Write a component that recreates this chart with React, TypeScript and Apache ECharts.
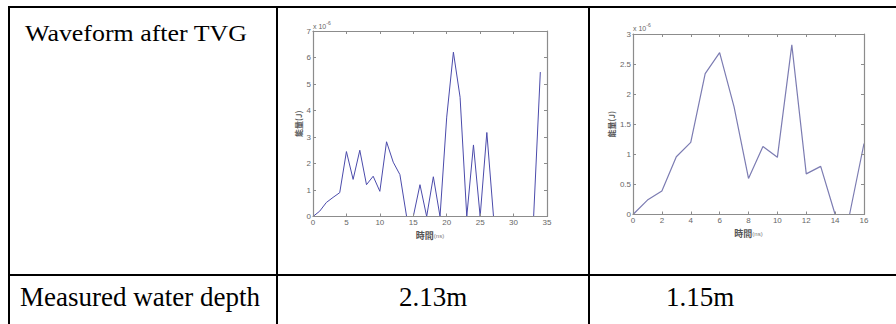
import React, { useEffect, useRef } from "react";
import * as echarts from "echarts";

// Left chart (measured depth 2.13 m): energy (x10^-6 J) vs time (ns)
const timeA: number[] = [0,1,2,3,4,5,6,7,8,9,10,11,12,13,14,15,16,17,18,19,20,21,22,23,24,25,26,27,28,29,30,31,32,33,34];
const energyA: number[] = [0,0.2,0.53,0.72,0.9,2.45,1.4,2.5,1.2,1.52,0.95,2.82,2.05,1.58,0,0,1.2,0,1.5,0,3.75,6.2,4.5,0,2.7,0,3.17,0,0,0,0,0,0,0,5.45];

// Right chart (measured depth 1.15 m)
const timeB: number[] = [0,1,2,3,4,5,6,7,8,9,10,11,12,13,14,15,16];
const energyB: number[] = [0,0.24,0.39,0.96,1.2,2.34,2.69,1.79,0.6,1.13,0.95,2.82,0.675,0.8,0,0,1.18];

const rowLabels: string[] = ["Waveform after TVG", "Measured water depth"];
const depthLabels: string[] = ["2.13m", "1.15m"];
const xNameText = "{a|時間}{b|(ns)}";
const yNameText = "能量(J)";
const expText = "{a|x 10}{b|-6}";

const AXIS = "#8c8c8c";
const LABEL = "#666";
const SANS = "'Liberation Sans', Arial, sans-serif";
const CJK = "'Noto Sans CJK TC', 'Noto Sans CJK SC', sans-serif";
const SERIF = "'Liberation Serif', 'Times New Roman', serif";

function axisSet(gridIndex: number, xMax: number, xInt: number, yMax: number, yInt: number, xGap: number, yGap: number) {
  const tick = { show: true, inside: true, length: 3, lineStyle: { color: AXIS } };
  const line = { show: true, onZero: false, lineStyle: { color: AXIS, width: 1.2 } };
  const lab = { color: LABEL, fontSize: 8, fontFamily: SANS, margin: 2 };
  const xs = [
    {
      type: "value", gridIndex, min: 0, max: xMax, interval: xInt, position: "bottom", z: 5,
      axisLine: line, axisTick: tick, splitLine: { show: false }, axisLabel: lab,
      name: xNameText, nameLocation: "middle", nameGap: xGap,
      nameTextStyle: { rich: { a: { fontSize: 9, fontFamily: CJK, color: "#555", fontWeight: "bold" }, b: { fontSize: 6, fontFamily: SANS, color: "#777" } } },
    },
    {
      type: "value", gridIndex, min: 0, max: xMax, interval: xInt, position: "top", z: 5,
      axisLine: line, axisTick: tick, splitLine: { show: false }, axisLabel: { show: false },
    },
  ];
  const ys = [
    {
      type: "value", gridIndex, min: 0, max: yMax, interval: yInt, position: "left", z: 5,
      axisLine: line, axisTick: tick, splitLine: { show: false }, axisLabel: lab,
      name: yNameText, nameLocation: "middle", nameGap: yGap,
      nameTextStyle: { fontSize: 8, fontFamily: CJK, color: "#555", fontWeight: "bold" },
    },
    {
      type: "value", gridIndex, min: 0, max: yMax, interval: yInt, position: "right", z: 5,
      axisLine: line, axisTick: tick, splitLine: { show: false }, axisLabel: { show: false },
    },
  ];
  return { xs, ys };
}

export default function App() {
  const ref = useRef<HTMLDivElement>(null);
  useEffect(() => {
    if (!ref.current) return;
    const chart = echarts.init(ref.current, undefined, { renderer: "svg" });
    const a = axisSet(0, 35, 5, 7, 1, 7, 10);
    const b = axisSet(1, 16, 2, 3, 0.5, 8, 13);
    const border = { stroke: "#000", lineWidth: 2 };
    chart.setOption({
      animation: false,
      backgroundColor: "#fff",
      grid: [
        { left: 313, top: 31, width: 234, height: 185.5 },
        { left: 633, top: 34, width: 231, height: 180.5 },
      ],
      xAxis: [...a.xs, ...b.xs],
      yAxis: [...a.ys, ...b.ys],
      series: [
        {
          type: "line", xAxisIndex: 0, yAxisIndex: 0, showSymbol: false, z: 1,
          data: timeA.map((t, i) => [t, energyA[i]]),
          lineStyle: { color: "#4b4bab", width: 1 }, itemStyle: { color: "#4b4bab" },
        },
        {
          type: "line", xAxisIndex: 2, yAxisIndex: 2, showSymbol: false, z: 1,
          data: timeB.map((t, i) => [t, energyB[i]]),
          lineStyle: { color: "#7c7cb2", width: 1.2 }, itemStyle: { color: "#7c7cb2" },
        },
      ],
      graphic: [
        { type: "line", shape: { x1: 8, y1: 7, x2: 896, y2: 7 }, style: border },
        { type: "line", shape: { x1: 9, y1: 6, x2: 9, y2: 324 }, style: border },
        { type: "line", shape: { x1: 277, y1: 6, x2: 277, y2: 324 }, style: border },
        { type: "line", shape: { x1: 589, y1: 6, x2: 589, y2: 324 }, style: border },
        { type: "line", shape: { x1: 8, y1: 275, x2: 896, y2: 275 }, style: border },
        {
          type: "text", x: 25, y: 32.5, scaleX: 1.08,
          style: { text: rowLabels[0], font: `24px ${SERIF}`, fill: "#000", verticalAlign: "middle", align: "left" },
        },
        {
          type: "text", x: 20, y: 297,
          style: { text: rowLabels[1], font: `27px ${SERIF}`, fill: "#000", verticalAlign: "middle", align: "left" },
        },
        {
          type: "text", x: 433, y: 297,
          style: { text: depthLabels[0], font: `27px ${SERIF}`, fill: "#000", verticalAlign: "middle", align: "center" },
        },
        {
          type: "text", x: 700, y: 297,
          style: { text: depthLabels[1], font: `27px ${SERIF}`, fill: "#000", verticalAlign: "middle", align: "center" },
        },
        {
          type: "text", x: 313, y: 26,
          style: { text: expText, fill: LABEL, verticalAlign: "middle", align: "left",
            rich: { a: { fontSize: 7, fontFamily: SANS, fill: LABEL }, b: { fontSize: 5, fontFamily: SANS, fill: LABEL, verticalAlign: "top", padding: [0, 0, 6, 0] } } },
        },
        {
          type: "text", x: 633, y: 28,
          style: { text: expText, fill: LABEL, verticalAlign: "middle", align: "left",
            rich: { a: { fontSize: 7, fontFamily: SANS, fill: LABEL }, b: { fontSize: 5, fontFamily: SANS, fill: LABEL, verticalAlign: "top", padding: [0, 0, 6, 0] } } },
        },
      ],
    });
    return () => chart.dispose();
  }, []);
  return (
    <div
      ref={ref}
      style={{ position: "absolute", left: 0, top: 0, width: 896, height: 324, background: "#fff" }}
    />
  );
}
